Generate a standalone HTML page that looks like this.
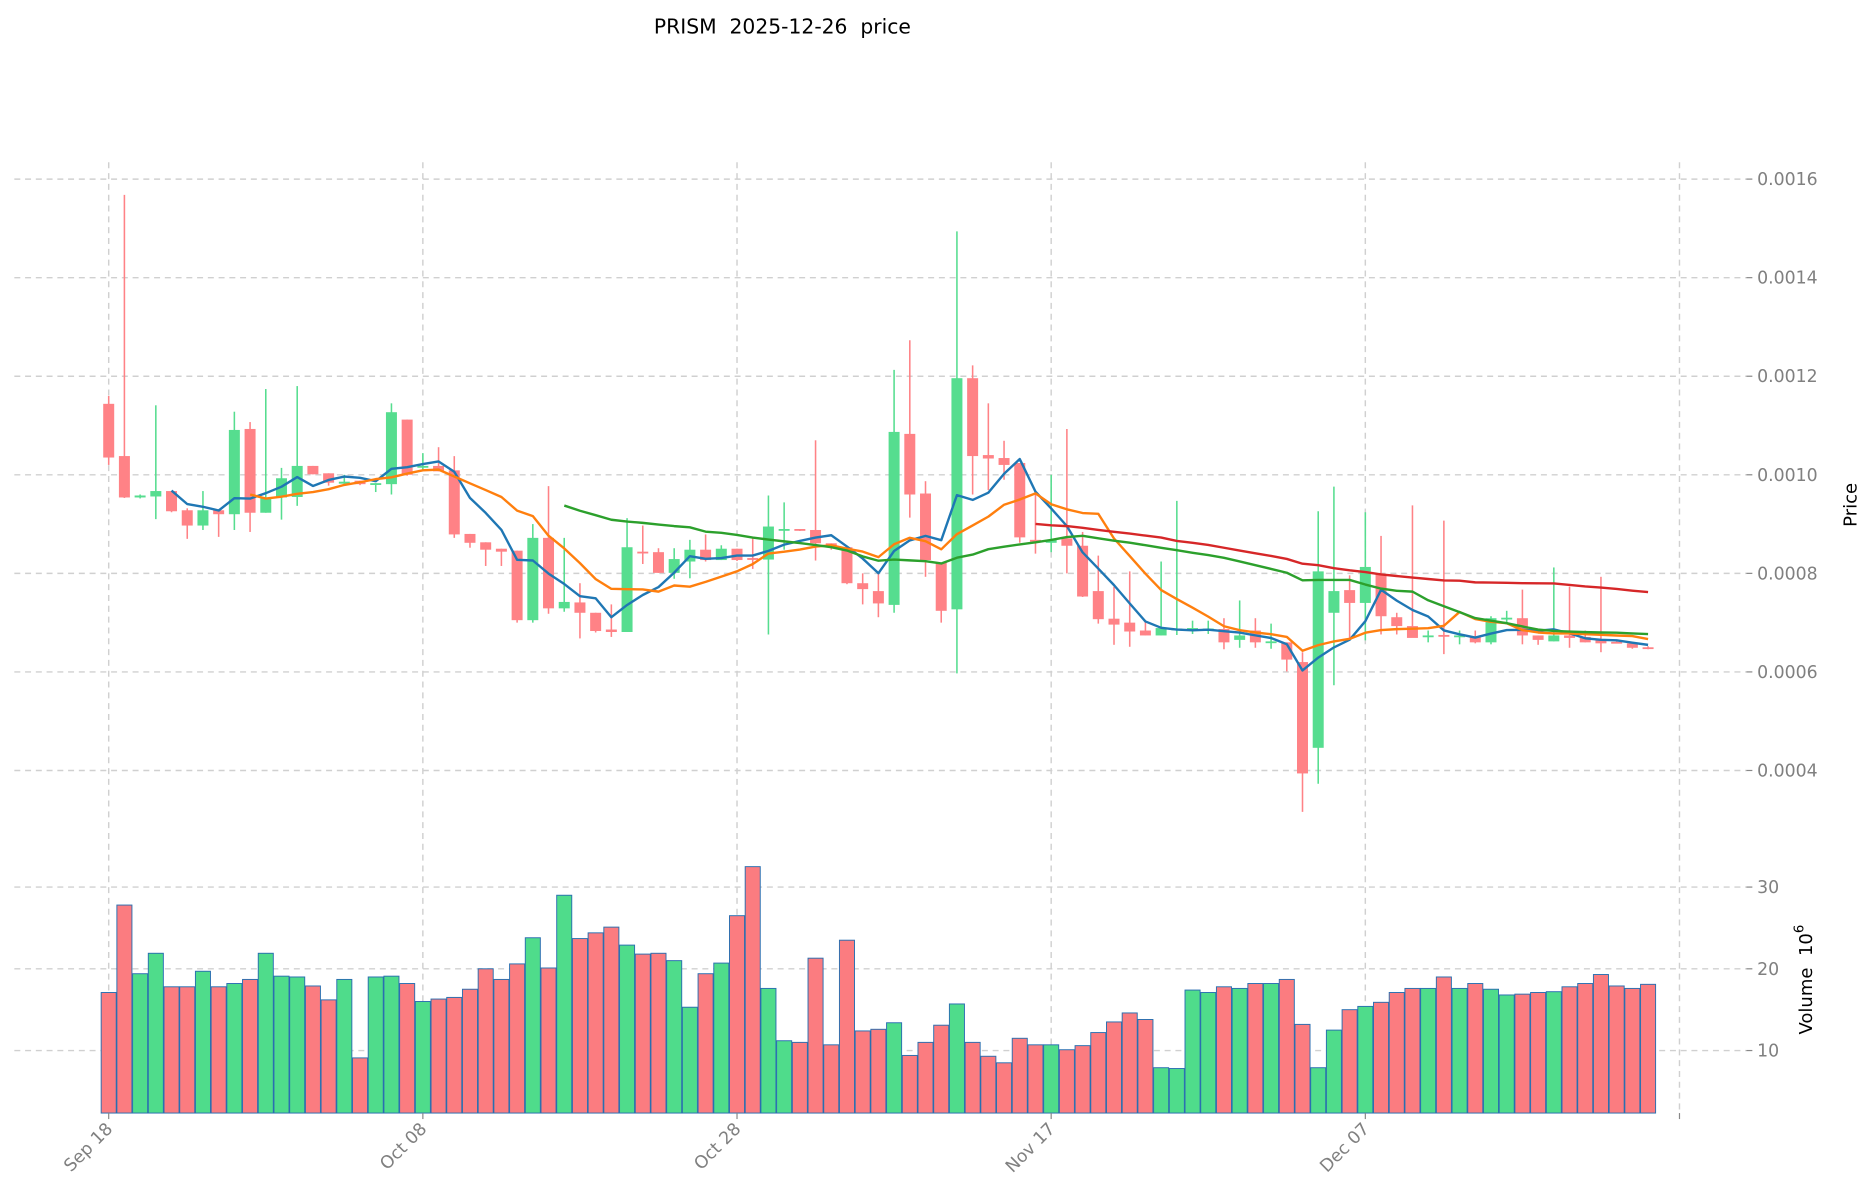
<!DOCTYPE html>
<html><head><meta charset="utf-8"><style>
html,body{margin:0;padding:0;background:#fff;}
svg{display:block;font-family:"DejaVu Sans","Liberation Sans",sans-serif;}
</style></head><body>
<svg id="chart" width="1873" height="1202" viewBox="0 0 1568 1000" preserveAspectRatio="none" xmlns="http://www.w3.org/2000/svg">
<text x="655" y="28" font-size="17" text-anchor="middle" fill="#000" xml:space="preserve" style="white-space:pre">PRISM  2025-12-26  price</text>
<text transform="translate(1554,420) rotate(-90)" font-size="15" text-anchor="middle" fill="#000">Price</text>
<text transform="translate(1517,815) rotate(-90)" font-size="15" text-anchor="middle" fill="#000" xml:space="preserve" style="white-space:pre">Volume  10<tspan dy="-7" font-size="11">6</tspan></text>
<g id="grid"></g><g id="vol"></g><g id="candles"></g><g id="mas"></g><g id="axes"></g>
</svg>
<script>
const dates=["Sep 18","Oct 08","Oct 28","Nov 17","Dec 07"];
const opens=[1.144,1.038,.954,.956,.967,.928,.897,.928,.920,1.093,.923,.954,.955,1.018,1.003,.982,.988,.981,.981,1.112,1.016,1.018,1.009,.880,.863,.850,.846,.705,.872,.729,.741,.720,.686,.681,.844,.843,.801,.824,.848,.827,.850,.831,.828,.888,.890,.888,.861,.853,.780,.764,.736,1.083,.962,.822,.727,1.196,1.040,1.034,1.024,.868,.862,.871,.856,.764,.708,.700,.684,.674,.686,.687,.687,.687,.665,.684,.660,.660,.620,.446,.720,.766,.740,.798,.711,.693,.672,.675,.672,.671,.660,.708,.709,.674,.662,.674,.671,.664,.661,.658,.650];
const closes=[1.035,.954,.958,.967,.926,.897,.928,.920,1.091,.923,.952,.993,1.018,1.001,.984,.986,.981,.983,1.127,1.000,1.018,1.007,.879,.862,.848,.844,.705,.872,.729,.742,.720,.683,.681,.853,.843,.801,.829,.848,.827,.850,.827,.829,.895,.890,.888,.861,.853,.780,.768,.739,1.087,.960,.827,.724,1.196,1.038,1.033,1.020,.873,.864,.868,.856,.753,.707,.696,.682,.674,.689,.688,.689,.688,.660,.674,.660,.662,.625,.394,.804,.764,.740,.813,.713,.693,.669,.674,.672,.674,.660,.709,.710,.674,.665,.674,.669,.660,.658,.660,.649,.648];
const highs=[1.160,1.568,.960,1.141,.967,.932,.967,.928,1.128,1.107,1.174,1.014,1.180,1.018,1.003,1.000,.988,.983,1.145,1.112,1.044,1.056,1.038,.880,.863,.850,.846,.900,.977,.872,.780,.720,.737,.912,.897,.851,.851,.868,.879,.857,.850,.873,.958,.944,.890,1.070,.861,.853,.800,.800,1.213,1.273,.987,.822,1.494,1.222,1.145,1.069,1.024,.964,1.000,1.093,.884,.836,.773,.804,.702,.824,.947,.704,.704,.709,.745,.709,.698,.660,.640,.926,.976,.796,.924,.876,.720,.938,.684,.907,.684,.684,.713,.724,.767,.674,.812,.773,.684,.793,.664,.660,.652];
const lows=[1.020,.953,.952,.910,.924,.870,.888,.874,.888,.884,.923,.909,.937,1.001,.978,.978,.979,.965,.960,.998,1.010,1.007,.872,.852,.815,.815,.700,.700,.718,.722,.668,.680,.671,.681,.819,.801,.789,.790,.824,.827,.825,.809,.676,.848,.886,.826,.848,.778,.737,.711,.720,.913,.793,.700,.597,.960,.969,.990,.862,.840,.843,.800,.752,.698,.655,.651,.674,.674,.675,.677,.677,.646,.649,.649,.647,.601,.316,.373,.573,.664,.664,.676,.676,.676,.660,.636,.656,.658,.656,.700,.656,.655,.662,.649,.660,.640,.658,.647,.646];
const volumes=[17.1,27.8,19.4,21.9,17.8,17.8,19.7,17.8,18.2,18.7,21.9,19.1,19.0,17.9,16.2,18.7,9.1,19.0,19.1,18.2,16.0,16.3,16.5,17.5,20.0,18.7,20.6,23.8,20.1,29.0,23.7,24.4,25.1,22.9,21.8,21.9,21.0,15.3,19.4,20.7,26.5,32.5,17.6,11.2,11.0,21.3,10.7,23.5,12.4,12.6,13.4,9.4,11.0,13.1,15.7,11.0,9.3,8.5,11.5,10.7,10.7,10.1,10.6,12.2,13.5,14.6,13.8,7.9,7.8,17.4,17.1,17.8,17.6,18.2,18.2,18.7,13.2,7.9,12.5,15.0,15.4,15.9,17.1,17.6,17.6,19.0,17.6,18.2,17.5,16.8,16.9,17.1,17.2,17.8,18.2,19.3,17.9,17.6,18.1];
const priceTicks=[0.0004,0.0006,0.0008,0.0010,0.0012,0.0014,0.0016];
const volTicks=[10,20,30];
const maPeriods=[5,10,30,60];
const maColors=["#1f77b4","#ff7f0e","#2ca02c","#d62728"];

const NS="http://www.w3.org/2000/svg";
const X0=91, DX=13.15;
const xOf=i=>X0+i*DX;
const yP=v=>149+(1.6-v)*410;          // v in units of 1e-3
const yV=v=>738+(30-v)*6.8;
const VB=926;
function mk(tag,attrs,parent){const e=document.createElementNS(NS,tag);for(const k in attrs)e.setAttribute(k,attrs[k]);parent.appendChild(e);return e;}
const grid=document.getElementById('grid'),axes=document.getElementById('axes');
priceTicks.forEach(t=>{const y=yP(t*1000);
 const l=mk('line',{x1:12,x2:1462,y1:y,y2:y,stroke:'#d0d0d0','stroke-dasharray':'5,4','stroke-width':1.2},grid);
 
 
 mk('line',{x1:1462,x2:1467,y1:y,y2:y,stroke:'#888'},axes);
 const tx=mk('text',{x:1471,y:y+5,'font-size':14.5,fill:'#808080'},axes);
 tx.textContent=t.toFixed(4);
 
 
});
volTicks.forEach(t=>{const y=yV(t);
 const l=mk('line',{x1:12,x2:1462,y1:y,y2:y,stroke:'#d0d0d0','stroke-dasharray':'5,4','stroke-width':1.2},grid);
 
 
 mk('line',{x1:1462,x2:1467,y1:y,y2:y,stroke:'#888'},axes);
 const tx=mk('text',{x:1471,y:y+5,'font-size':14.5,fill:'#808080'},axes);
 tx.textContent=String(t);
 
 
});
const tickIdx=[0,20,40,60,80,100];
tickIdx.forEach((ti,k)=>{const x=xOf(ti);
 const l=mk('line',{x1:x,x2:x,y1:135,y2:VB,stroke:'#d0d0d0','stroke-dasharray':'5,4','stroke-width':1.2},grid);
 
 
 mk('line',{x1:x,x2:x,y1:VB,y2:VB+5,stroke:'#888'},axes);
 if(dates[k]){const tx=mk('text',{x:0,y:0,'font-size':14.5,fill:'#808080','text-anchor':'end',transform:`translate(${x+4},${VB+14}) rotate(-45)`},axes);
  tx.textContent=dates[k];
  
  }
});
const vol=document.getElementById('vol');
volumes.forEach((v,i)=>{const up=closes[i]>=opens[i];const x=xOf(i);
 const r=mk('rect',{x:x-6.3,y:yV(v),width:12.6,height:VB-yV(v),fill:up?'#4fdc8b':'#fb7c80',stroke:'#2a6fb0','stroke-width':0.8},vol);
 
 
});
const cg=document.getElementById('candles');
opens.forEach((o,i)=>{const c=closes[i];const up=c>=o;const col=up?'#56dd8f':'#ff8286';const x=xOf(i);
 const w=mk('line',{x1:x,x2:x,y1:yP(highs[i]),y2:yP(lows[i]),stroke:col,'stroke-width':1.3},cg);
 
 
 const top=yP(Math.max(o,c)),bot=yP(Math.min(o,c));
 const b=mk('rect',{x:x-4.6,y:top,width:9.2,height:Math.max(bot-top,1.5),fill:col},cg);
 
 
});
const mg=document.getElementById('mas');
maPeriods.forEach((p,k)=>{const pts=[];
 for(let i=p-1;i<closes.length;i++){let s=0;for(let j=i-p+1;j<=i;j++)s+=closes[j];pts.push(xOf(i).toFixed(1)+','+yP(s/p).toFixed(1));}
 const pl=mk('polyline',{points:pts.join(' '),fill:'none',stroke:maColors[k],'stroke-width':2,'stroke-linejoin':'round'},mg);
 
 
});
</script>
</body></html>
